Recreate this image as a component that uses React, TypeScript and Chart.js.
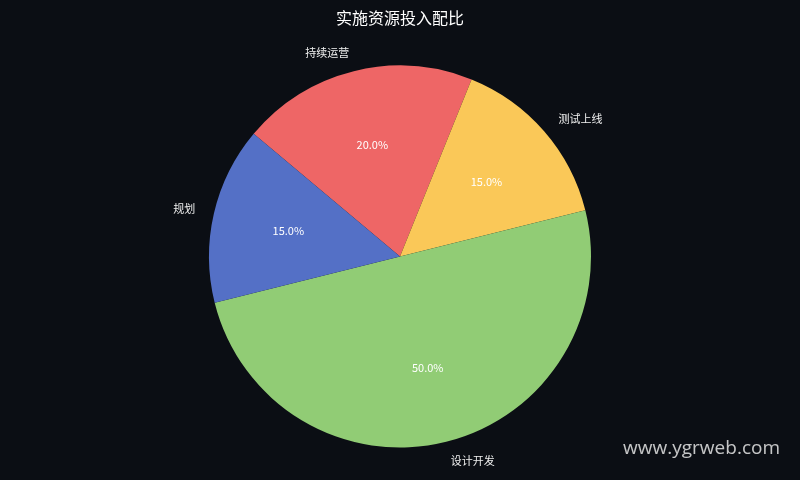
import React, { useEffect, useRef } from "react";
import { Chart, registerables } from "chart.js";

Chart.register(...registerables);

const categories = ["规划", "设计开发", "测试上线", "持续运营"];
const values = [15, 50, 15, 20];
const colors = ["#5470C6", "#91CC75", "#FAC858", "#EE6666"];
const titleText = "实施资源投入配比";
const watermark = "www.ygrweb.com";

const BG = "#0B0E14";
const FONT = "'Noto Sans CJK SC', 'DejaVu Sans', sans-serif";

// matplotlib draws counter-clockwise from 140°; Chart.js draws clockwise,
// so reverse the order and start from the same angle.
const chartLabels = [...categories].reverse();
const chartValues = [...values].reverse();
const chartColors = [...colors].reverse();

const labelPlugin = {
  id: "pieLabels",
  afterDatasetsDraw(chart: any) {
    const ctx = chart.ctx as CanvasRenderingContext2D;
    const meta = chart.getDatasetMeta(0);
    const total = chartValues.reduce((a, b) => a + b, 0);
    ctx.save();
    meta.data.forEach((arc: any, i: number) => {
      const p = arc.getProps(["x", "y", "startAngle", "endAngle", "outerRadius"], true);
      const mid = (p.startAngle + p.endAngle) / 2;
      const r = p.outerRadius;
      const c = Math.cos(mid);
      const s = Math.sin(mid);
      // outer label
      ctx.font = `11px ${FONT}`;
      ctx.fillStyle = "#F0F0F0";
      ctx.textBaseline = "middle";
      ctx.textAlign = c > 0 ? "left" : "right";
      ctx.fillText(chartLabels[i], p.x + c * r * 1.1, p.y + s * r * 1.1);
      // percent
      ctx.textAlign = "center";
      ctx.fillStyle = "#FFFFFF";
      const pct = ((chartValues[i] / total) * 100).toFixed(1) + "%";
      ctx.fillText(pct, p.x + c * r * 0.6, p.y + s * r * 0.6);
    });
    // watermark
    ctx.font = `19px 'Open Sans', sans-serif`;
    ctx.fillStyle = "rgba(230,230,230,0.85)";
    ctx.textAlign = "right";
    ctx.textBaseline = "alphabetic";
    ctx.fillText(watermark, 780, 454);
    ctx.restore();
  },
};

const bgPlugin = {
  id: "bg",
  beforeDraw(chart: any) {
    const ctx = chart.ctx as CanvasRenderingContext2D;
    ctx.save();
    ctx.fillStyle = BG;
    ctx.fillRect(0, 0, chart.width, chart.height);
    ctx.restore();
  },
};

export default function App() {
  const ref = useRef<HTMLCanvasElement | null>(null);
  useEffect(() => {
    if (!ref.current) return;
    const chart = new Chart(ref.current, {
      type: "pie",
      data: {
        labels: chartLabels,
        datasets: [
          {
            data: chartValues,
            backgroundColor: chartColors,
            borderWidth: 0,
          },
        ],
      },
      options: {
        responsive: false,
        animation: false,
        rotation: -50,
        layout: { padding: { top: 0, bottom: 32.5, left: 0, right: 0 } },
        plugins: {
          legend: { display: false },
          tooltip: { enabled: false },
          title: {
            display: true,
            text: titleText,
            color: "#FFFFFF",
            font: { family: FONT, size: 16, weight: "normal" as any, lineHeight: 1.2 },
            padding: { top: 8.4, bottom: 37.9 },
          },
        },
      },
      plugins: [bgPlugin, labelPlugin],
    });
    return () => chart.destroy();
  }, []);
  return (
    <div style={{ position: "fixed", left: 0, top: 0, width: 800, height: 480, background: BG }}>
      <canvas ref={ref} width={800} height={480} style={{ display: "block" }} />
    </div>
  );
}
